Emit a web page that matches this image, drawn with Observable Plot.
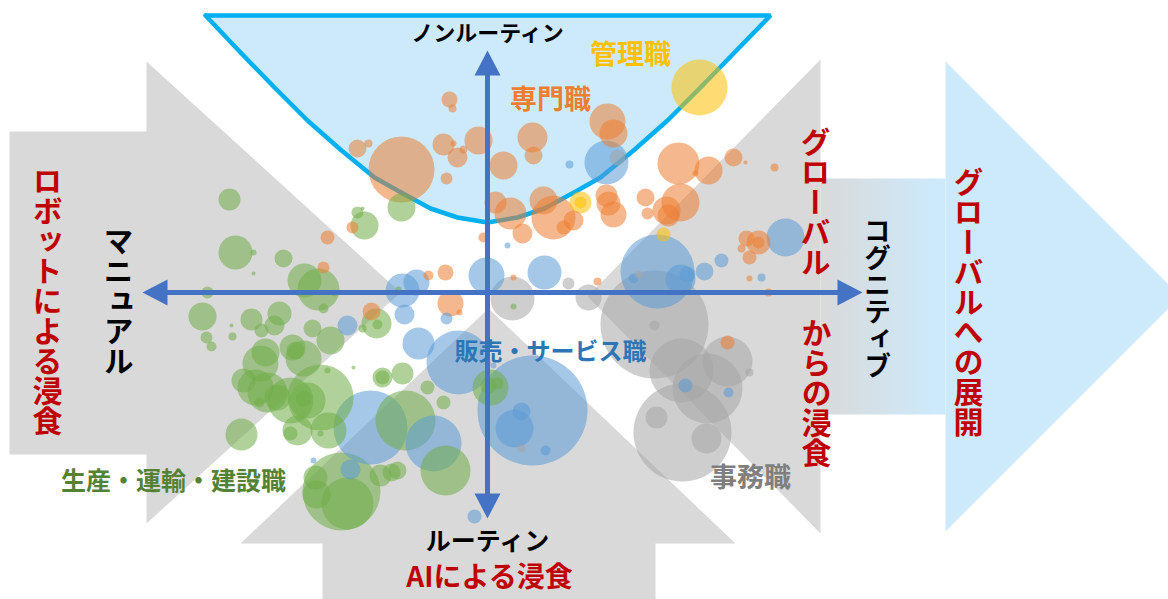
<!DOCTYPE html>
<html><head><meta charset="utf-8">
<script src="https://cdn.jsdelivr.net/npm/d3@7"></script>
<script src="https://cdn.jsdelivr.net/npm/@observablehq/plot@0.6"></script>
<style>html,body{margin:0;padding:0;background:#fff;overflow:hidden}</style>
</head><body><div id="chart"></div>
<script>
// Axes: x = manual (-) ... cognitive (+), y = routine (-) ... non-routine (+)
const categories = ["専門職", "管理職", "販売・サービス職", "事務職", "生産・運輸・建設職"];
const seriesColors = ["#ed7d31", "#ffc000", "#5b9bd5", "#a5a5a5", "#70ad47"];

// [x score, y score, employment size]
const professional = [
  [-38,193,64],[-35,184,16],[-130,144,81],[-119,149,16],[-86,123,1089],[-44,148,121],[-9,152,196],
  [-30,135,100],[-34,149,9],[-24,143,16],[-41,114,36],[16,127,196],[45,155,225],[46,137,81],
  [8,90,121],[23,79,256],[56,92,196],[66,75,484],[86,72,100],[76,65,49],[35,59,100],[-4,55,25],
  [-135,65,36],[120,171,324],[126,159,196],[119,97,121],[121,89,144],[126,78,169],[158,95,81],
  [160,79,36],[191,129,441],[221,122,196],[246,135,81],[258,130,4],[287,125,16],[208,119,9],
  [193,90,361],[179,82,196],[181,77,121],[259,54,64],[271,50,144],[271,50,36],[254,44,16],
  [262,35,49],[262,14,9],[281,0,16],[110,11,16],[26,15,9],[-42,20,64],[-59,17,25],[-160,55,49],
  [-164,25,36],[-116,-19,81],[-37,-11,169],[-28,-20,9],[240,-50,49]
];
const managerial = [[212,205,784],[93,90,121],[93,90,36],[176,58,49]];
const salesService = [
  [119,130,484],[82,128,16],[20,47,9],[-1,17,324],[57,20,289],[170,21,1369],[193,13,225],
  [200,18,64],[217,21,81],[234,32,49],[298,55,361],[274,15,16],[146,14,25],[-85,2,289],
  [-71,10,169],[-83,-22,100],[-41,-26,36],[-69,-51,256],[-29,-70,1024],[45,-118,3025],
  [27,-136,361],[34,-119,81],[58,-158,25],[-54,-151,784],[6,-73,9],[-140,-33,100],
  [-117,-135,1369],[-174,-168,9],[198,-93,49],[241,-100,25],[-13,-224,49],[-137,-177,100]
];
const clerical = [
  [130,135,64],[81,9,36],[151,18,16],[25,-6,484],[101,-5,169],[167,-32,2916],[167,-33,25],
  [194,-78,1024],[240,-69,625],[220,-96,1225],[262,-80,16],[195,-140,2401],[169,-125,121],
  [219,-146,225],[34,-156,16]
];
const production = [
  [-258,93,121],[-252,40,289],[-234,40,9],[-204,34,81],[-183,12,289],[-169,3,441],[-164,-16,25],
  [-153,-1,9],[-234,19,4],[-280,0,36],[-130,80,36],[-123,67,196],[-125,84,4],[-86,85,196],
  [-285,-24,196],[-236,-27,121],[-208,-21,144],[-213,-33,100],[-226,-38,49],[-256,-33,4],
  [-255,-44,16],[-281,-45,36],[-276,-54,25],[-175,-36,81],[-157,-48,196],[-111,-31,225],
  [-110,-32,25],[-125,-36,16],[-89,3,9],[-222,-60,196],[-227,-71,324],[-244,-88,144],
  [-232,-95,324],[-220,-100,400],[-210,-105,169],[-228,-110,25],[-195,-55,169],[-184,-66,324],
  [-192,-58,81],[-197,-108,529],[-167,-105,1089],[-180,-108,324],[-184,-106,64],[-190,-138,225],
  [-197,-141,49],[-159,-138,324],[-167,-141,9],[-246,-142,256],[-160,-78,9],[-134,-75,4],
  [-105,-85,100],[-105,-85,49],[-85,-81,121],[-172,-185,144],[-146,-199,1521],[-171,-202,196],
  [-140,-211,676],[-107,-183,121],[-96,-180,81],[-82,-128,900],[3,-95,324],[1,-93,64],
  [10,-91,36],[-60,-95,49],[-44,-110,49],[-42,-178,625],[-90,-178,81],[26,-14,9]
];
const seriesValues = [professional, managerial, salesService, clerical, production];

// Background block arrows and the non-routine bowl (annotation outlines)
const robotArrow = [[-478,161],[-341,161],[-341,231],[-87,0],[-341,-231],[-341,-162],[-478,-162]];
const aiArrow = [[-165,-313],[-165,-251],[-247,-251],[1,-16],[248,-251],[168,-251],[168,-313]];
const globalInArrow = [[333,233],[100,-4],[333,-241]];
const globalOutArrow = [[458,231],[693,-4],[458,-239]];
const globalBody = [[333,114],[458,114],[458,-122],[333,-122]];
const bowl = [[-282,277],[-246,239],[-213,205],[-180,172],[-146,142],[-113,115],[-90,102],[-57,84],
  [-30,75],[0,70],[30,75],[57,84],[90,102],[113,115],[146,142],[180,172],[213,205],[246,239],[283,277],[-282,277]];

// Axis arrows
const hAxis = [[-320,0],[350,0]];
const vAxis = [[0,-201],[0,217]];
const headLeft = [[-345,0],[-320,13],[-320,-13]];
const headRight = [[375,0],[350,13],[350,-13]];
const headTop = [[0,242],[13,217],[-13,217]];
const headBottom = [[0,-226],[13,-201],[-13,-201]];

// Text
const axisLabels = [
  {text:"ノンルーティン", x:0, y:259, size:22},
  {text:"ルーティン", x:0, y:-249, size:25}
];
const axisLabelsV = [
  {text:"マニュアル", x:-369, y:-8, size:30},
  {text:"コグニティブ", x:390, y:-6, size:27}
];
const forceLabels = [{text:"AIによる浸食", x:2, y:-286}];
const forceLabelsV = [
  {text:"ロボットによる浸食", x:-440, y:-8},
  {text:"グローバル", x:328, y:91},
  {text:"からの浸食", x:329, y:-100},
  {text:"グローバルへの展開", x:481, y:-9}
];
const groupLabels = [
  {text:"管理職", x:143, y:237, color:"#ffc000", size:27},
  {text:"専門職", x:63, y:192, color:"#ed7d31", size:27},
  {text:"販売・サービス職", x:63, y:-60, color:"#2e75b6", size:24},
  {text:"生産・運輸・建設職", x:-314, y:-189, color:"#548235", size:25},
  {text:"事務職", x:263, y:-186, color:"#7f7f7f", size:27}
];

const rows = [];
categories.forEach((c, i) => seriesValues[i].forEach(([x, y, s]) => rows.push({group: c, x, y, s})));

const font = "'Noto Sans CJK JP', 'Noto Sans', sans-serif";
const poly = (pts, fill) => Plot.line(pts, {fill, stroke: "none"});

const marks = [
  poly(robotArrow, "#d9d9d9"),
  poly(aiArrow, "#d9d9d9"),
  poly(globalInArrow, "#d9d9d9"),
  poly(globalOutArrow, "#cdeafc"),
  poly(globalBody, "url(#globalGrad)"),
  Plot.line(bowl, {fill: "#cdeafc", stroke: "#00b0f0", strokeWidth: 4.5, strokeLinejoin: "miter"}),
  Plot.dot(rows, {x: "x", y: "y", r: "s", fill: "group", fillOpacity: 0.55, stroke: "none"}),
  Plot.line(hAxis, {stroke: "#4472c4", strokeWidth: 5}),
  Plot.line(vAxis, {stroke: "#4472c4", strokeWidth: 5}),
  poly(headLeft, "#4472c4"), poly(headRight, "#4472c4"), poly(headTop, "#4472c4"), poly(headBottom, "#4472c4"),
  ...axisLabels.map(l => Plot.text([l], {x: "x", y: "y", text: "text", fill: "#000", fontSize: l.size, fontWeight: "bold"})),
  ...axisLabelsV.map(l => Plot.text([l], {x: "x", y: "y", text: "text", fill: "#000", fontSize: l.size, fontWeight: "bold", lineAnchor: "bottom"})),
  Plot.text(forceLabels, {x: "x", y: "y", text: "text", fill: "#c00000", fontSize: 28, fontWeight: "bold"}),
  Plot.text(forceLabelsV, {x: "x", y: "y", text: "text", fill: "#c00000", fontSize: 30, fontWeight: "bold", lineAnchor: "bottom"}),
  ...groupLabels.map(l => Plot.text([l], {x: "x", y: "y", text: "text", fill: l.color, fontSize: l.size, fontWeight: "bold"}))
];

const chart = Plot.plot({
  width: 1168, height: 599,
  margin: 0, inset: 0,
  style: {background: "#fff", fontFamily: font, overflow: "hidden"},
  x: {domain: [-487, 681], range: [0, 1168], axis: null},
  y: {domain: [-307, 292], range: [599, 0], axis: null},
  r: {type: "sqrt", domain: [0, 3600], range: [0, 60]},
  color: {domain: categories, range: seriesColors},
  marks
});

const svg = d3.select(chart.tagName.toLowerCase() === "svg" ? chart : chart.querySelector("svg"));
svg.insert("defs", ":first-child").html(
  '<linearGradient id="globalGrad" x1="0" x2="1" y1="0" y2="0">' +
  '<stop offset="0" stop-color="#d9d9d9"/><stop offset="0.95" stop-color="#cdeafc"/></linearGradient>');
const vertical = new Set([...axisLabelsV, ...forceLabelsV].map(d => d.text));
svg.selectAll("text").each(function () {
  if (vertical.has(this.textContent)) {
    this.style.writingMode = "vertical-rl";
    const y = this.getAttribute("y");
    if (y && /em$/.test(y)) this.removeAttribute("y");
    this.removeAttribute("dy");
  }
});
document.getElementById("chart").appendChild(chart);
</script></body></html>
